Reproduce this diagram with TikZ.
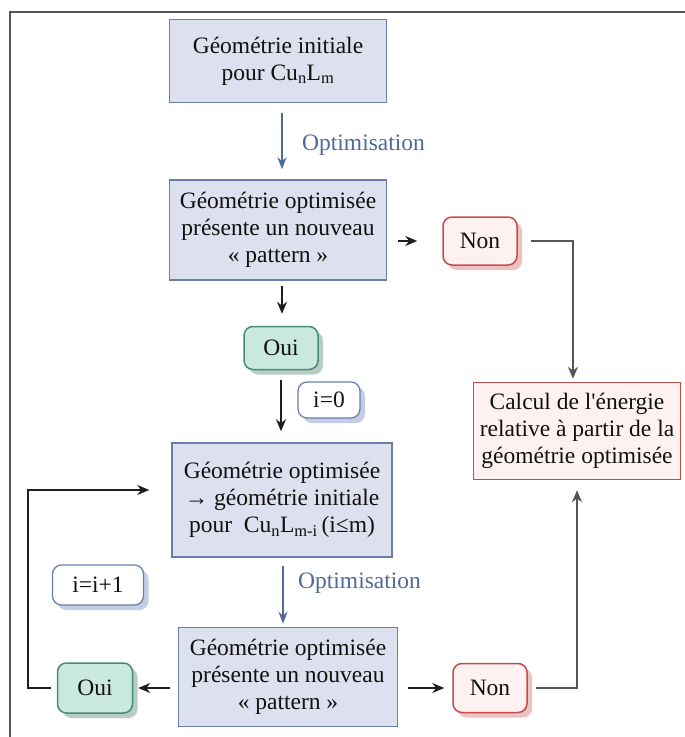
\documentclass[tikz,border=0pt]{standalone}
\usepackage{fontspec}
\setmainfont{Liberation Serif}
\usetikzlibrary{arrows.meta,shadows}
\definecolor{boxfill}{HTML}{DDE0EE}
\definecolor{boxborder}{HTML}{6A7FA8}
\definecolor{redfill}{HTML}{FDF1F1}
\definecolor{redborder}{HTML}{C84A4A}
\definecolor{redshadow}{HTML}{EBC2C2}
\definecolor{grfill}{HTML}{C9E8E0}
\definecolor{grborder}{HTML}{4A8A78}
\definecolor{grshadow}{HTML}{B8CCC6}
\definecolor{blborder}{HTML}{6A80B0}
\definecolor{blshadow}{HTML}{C4CDE2}
\definecolor{opt}{HTML}{4F6A9A}
\definecolor{txt}{HTML}{111111}
\definecolor{lin}{HTML}{1E1E1E}
\definecolor{lin2}{HTML}{555555}
\begin{document}
\begin{tikzpicture}[x=1pt,y=-1pt,
  every node/.style={font=\fontsize{23.5}{27}\selectfont, text=txt, align=center, inner sep=0pt},
  mainbox/.style={draw=boxborder, fill=boxfill, line width=1.5pt},
  redbox/.style={draw=redborder, fill=redfill, line width=1.5pt},
  nonbox/.style={draw=redborder, fill=redfill, line width=1.5pt, rounded corners=9pt,
     drop shadow={shadow xshift=5pt, shadow yshift=-5pt, fill=redshadow, opacity=1}},
  ouibox/.style={draw=grborder, fill=grfill, line width=1.5pt, rounded corners=9pt,
     drop shadow={shadow xshift=5pt, shadow yshift=-5pt, fill=grshadow, opacity=1}},
  ibox/.style={draw=blborder, fill=white, line width=1.3pt, rounded corners=9pt,
     drop shadow={shadow xshift=5pt, shadow yshift=-5pt, fill=blshadow, opacity=1}},
  arr/.style={draw=lin, line width=1.8pt, -{Stealth[length=12pt,width=10pt]}},
  arr2/.style={draw=lin2, line width=2.4pt, -{Stealth[length=12pt,width=10pt,fill=lin]}},
  optarr/.style={draw=opt, line width=1.8pt, -{Stealth[length=12pt,width=9pt]}},
  optlbl/.style={text=opt, anchor=west},
  frame/.style={draw=lin2, line width=2.4pt}
]
\useasboundingbox (0,0) rectangle (685,737);
\fill[white] (0,0) rectangle (685,737);
% frame
\draw[frame] (685,12) -- (10,12) -- (10,737);

% nodes
\node[mainbox, minimum width=217, minimum height=83] (b1) at (278,61)
  {Géométrie initiale\\pour Cu\textsubscript{n}L\textsubscript{m}};
\node[mainbox, minimum width=217, minimum height=100] (b2) at (278,230)
  {Géométrie optimisée\\présente un nouveau\\« pattern »};
\node[nonbox, minimum width=74, minimum height=48] (non1) at (480,241) {Non};
\node[redbox, minimum width=207, minimum height=97] (calc) at (577,431)
  {Calcul de l\textquotesingle énergie\\relative à partir de la\\géométrie optimisée};
\node[ouibox, minimum width=74, minimum height=43] (oui1) at (281,348) {Oui};
\node[ibox, minimum width=62, minimum height=36] (izero) at (329,400) {i=0};
\node[mainbox, minimum width=220, minimum height=114] (b3) at (282,500)
  {Géométrie optimisée\\→ géométrie initiale\\pour\ \ Cu\textsubscript{n}L\textsubscript{m-i}\,(i≤m)};
\node[ibox, minimum width=91, minimum height=40] (iinc) at (98,585) {i=i+1};
\node[mainbox, minimum width=219, minimum height=99] (b4) at (288,677)
  {Géométrie optimisée\\présente un nouveau\\« pattern »};
\node[ouibox, minimum width=75, minimum height=50] (oui2) at (95,688) {Oui};
\node[nonbox, minimum width=74, minimum height=49] (non2) at (490,688) {Non};

\node[optlbl] (opt1) at (302,145) {Optimisation};
\node[optlbl] (opt2) at (298,583) {Optimisation};

% connectors
\draw[optarr, shorten <=10pt, shorten >=10pt] ([xshift=4pt]b1.south) -- ([xshift=4pt]b2.north);
\draw[optarr, shorten <=8pt, shorten >=3pt] ([xshift=1pt]b3.south) -- ([xshift=1pt]b3.south |- b4.north);
\draw[arr, shorten <=11pt, shorten >=25pt] (b2.east |- non1.west) -- (non1.west);
\draw[arr2, shorten <=13pt, shorten >=3pt] (non1.east) -| ([xshift=-4pt]calc.north);
\draw[arr, shorten <=5pt, shorten >=12pt] ([xshift=4pt]b2.south) -- ([xshift=4pt]b2.south |- oui1.north);
\draw[arr, shorten <=10pt, shorten >=11pt] (oui1.south) -- (oui1.south |- b3.north);
\coordinate (lp) at (28,490);
\draw[arr, shorten <=6pt, shorten >=22pt] (oui2.west) -| (lp) -- (b3.west |- lp);
\draw[arr, shorten <=8pt, shorten >=5pt] (b4.west |- oui2.east) -- (oui2.east);
\draw[arr, shorten <=10pt, shorten >=8pt] (b4.east |- non2.west) -- (non2.west);
\draw[arr2, shorten <=8pt, shorten >=10pt] (non2.east) -| (calc.south);
\end{tikzpicture}
\end{document}
